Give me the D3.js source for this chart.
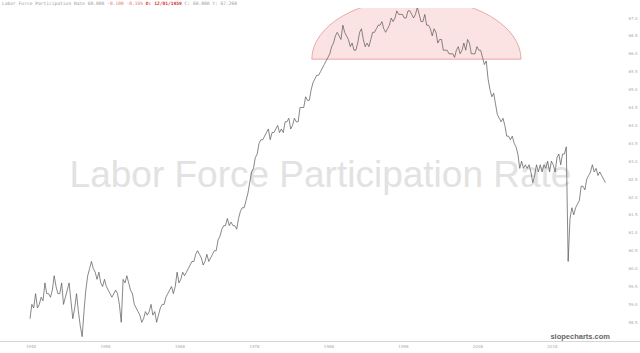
<!DOCTYPE html>
<html>
<head>
<meta charset="utf-8">
<script src="https://cdn.jsdelivr.net/npm/d3@7"></script>
<style>
  body { margin: 0; background: #fff; }
  svg { display: block; }
</style>
</head>
<body>
<script>
// Labor force participation rate, quarterly, one row per year (Q1..Q4).
const lfpr1940s = [
  58.6, 59.0, 58.9, 59.3,
  58.9, 59.0, 59.2, 59.1
];
const lfpr1950s = [
  59.6, 59.3, 59.3, 59.2,
  59.4, 59.8, 59.5, 59.3,
  59.3, 59.6, 59.0, 59.2,
  59.4, 59.6, 59.1, 58.6,
  58.9, 59.3, 58.8, 58.4,
  58.1, 58.8, 59.4, 59.8,
  60.0, 60.2, 60.0, 59.9,
  59.7, 59.9, 59.6, 59.5,
  59.7, 59.5, 59.4, 59.3,
  59.2, 59.3, 59.4, 59.3
];
const lfpr1960s = [
  59.0, 58.5, 59.7, 59.6,
  59.8, 59.6, 59.4, 59.3,
  59.0, 58.9, 58.8, 58.7,
  58.5, 58.6, 58.8, 58.7,
  58.8, 59.0, 58.7, 58.8,
  58.5, 58.7, 58.9, 59.0,
  59.0, 59.2, 59.3, 59.4,
  59.5, 59.3, 59.5, 59.9,
  59.6, 59.7, 59.9, 59.8,
  59.9, 60.0, 60.1, 60.2
];
const lfpr1970s = [
  60.2, 60.4, 60.5, 60.4,
  60.3, 60.1, 60.2, 60.4,
  60.2, 60.3, 60.4, 60.5,
  60.5, 60.8, 60.9, 61.1,
  61.2, 61.2, 61.4, 61.2,
  61.3, 61.2, 61.2, 61.1,
  61.4, 61.6, 61.7, 61.7,
  61.9, 62.1, 62.4, 62.7,
  62.8, 63.1, 63.2, 63.5,
  63.6, 63.6, 63.7, 63.8
];
const lfpr1980s = [
  63.9, 63.6, 63.8, 63.8,
  63.9, 64.0, 63.8, 63.9,
  63.8, 64.1, 64.1, 64.2,
  63.9, 64.0, 64.2, 64.1,
  64.1, 64.5, 64.5, 64.5,
  64.8, 64.7, 64.7, 65.0,
  65.2, 65.3, 65.4, 65.4,
  65.5, 65.6, 65.7, 65.8,
  65.9, 66.0, 66.2, 66.3,
  66.5, 66.6, 66.5, 66.4
];
const lfpr1990s = [
  66.8, 66.6, 66.5, 66.4,
  66.2, 66.3, 66.1, 66.1,
  66.3, 66.6, 66.7, 66.4,
  66.2, 66.3, 66.2, 66.4,
  66.6, 66.6, 66.7, 66.8,
  66.8, 66.9, 66.7, 66.6,
  66.7, 66.8, 67.0, 66.9,
  67.0, 67.2, 67.1, 67.1,
  67.1, 67.0, 67.0, 67.2,
  67.2, 67.1, 67.0, 67.1
];
const lfpr2000s = [
  67.3, 67.1, 66.9, 66.9,
  67.1, 66.8, 66.8, 66.7,
  66.5, 66.7, 66.6, 66.3,
  66.4, 66.4, 66.1, 66.1,
  66.1, 66.0, 66.0, 66.0,
  65.9, 66.1, 66.2, 66.0,
  66.1, 66.3, 66.1, 66.4,
  66.3, 66.0, 66.0, 66.0,
  66.2, 66.1, 66.1, 65.9,
  65.7, 65.8, 65.3, 65.0
];
const lfpr2010s = [
  64.8, 64.9, 64.6, 64.3,
  64.2, 64.1, 64.2, 64.0,
  63.7, 63.7, 63.6, 63.7,
  63.5, 63.4, 63.2, 62.8,
  63.0, 62.8, 62.9, 62.8,
  62.9, 62.7, 62.4, 62.6,
  62.9, 62.7, 62.9, 62.7,
  62.9, 62.8, 63.0, 62.7,
  63.0, 62.9, 62.7, 63.1,
  63.2, 62.9, 63.2, 63.2
];
const lfpr2020s = [
  63.4, 60.2, 61.4, 61.7,
  61.5, 61.7, 61.8, 61.9,
  62.3, 62.3, 62.2, 62.5,
  62.6, 62.7, 62.9, 62.7,
  62.8, 62.6, 62.7, 62.6,
  62.5, 62.4
];

const firstYear = 1948;
const xTickYears = [1948, 1958, 1968, 1978, 1988, 1998, 2008, 2018];
const yTicks = [58.5, 59.0, 59.5, 60.0, 60.5, 61.0, 61.5, 62.0, 62.5,
                63.0, 63.5, 64.0, 64.5, 65.0, 65.5, 66.0, 66.5, 67.0];

// Highlighted dome annotation: start/end month and base/top value.
const domeDates = ["1985-11-01", "2013-12-01"];
const domeValues = [65.85, 67.55];

const title = "Labor Force Participation Rate";
const headerParts = [
  "Labor Force Participation Rate 60.000 ",
  "-0.100 -0.16% ",
  "D: 12/01/1959 ",
  "C: 60.000 Y: 67.260"
];
const brand = "slopecharts.com";

// Build quarterly series.
const values = [].concat(lfpr1940s, lfpr1950s, lfpr1960s, lfpr1970s,
                         lfpr1980s, lfpr1990s, lfpr2000s, lfpr2010s, lfpr2020s);
const series = values.map((v, i) => ({
  date: d3.timeMonth.offset(new Date(firstYear, 0, 1), i * 3),
  value: v
}));

const W = 640, H = 353;
const svg = d3.select("body").append("svg")
  .attr("width", W)
  .attr("height", H);

const x = d3.scaleTime()
  .domain([new Date(1948, 0, 1), new Date(2026, 0, 1)])
  .range([30, 611]);

const y = d3.scaleLinear()
  .domain([58.5, 67])
  .range([322.3, 18]);

// Clip for the plot area.
svg.append("clipPath").attr("id", "plot")
  .append("rect")
  .attr("x", 0).attr("y", 8)
  .attr("width", 616).attr("height", 333);

// Watermark.
svg.append("text")
  .attr("x", 320.5)
  .attr("y", 187)
  .attr("text-anchor", "middle")
  .attr("font-family", "Liberation Sans, Arial, sans-serif")
  .attr("font-size", 37)
  .attr("fill", "#e2e2e2")
  .text(title);

// Dome annotation.
const dx0 = x(new Date(domeDates[0])), dx1 = x(new Date(domeDates[1]));
const dBase = y(domeValues[0]), dTop = y(domeValues[1]);
const rx = (dx1 - dx0) / 2, ry = dBase - dTop;
svg.append("path")
  .attr("clip-path", "url(#plot)")
  .attr("d", `M ${dx0} ${dBase} A ${rx} ${ry} 0 0 1 ${dx1} ${dBase} Z`)
  .attr("fill", "#fcdede")
  .attr("fill-opacity", 0.85)
  .attr("stroke", "#e59595")
  .attr("stroke-width", 0.8);

// Price line.
const line = d3.line()
  .x(d => x(d.date))
  .y(d => y(d.value));

svg.append("path")
  .datum(series)
  .attr("clip-path", "url(#plot)")
  .attr("fill", "none")
  .attr("stroke", "#555")
  .attr("stroke-width", 0.7)
  .attr("stroke-linejoin", "round")
  .attr("d", line);

// Bottom axis line.
svg.append("line")
  .attr("x1", 0).attr("x2", W)
  .attr("y1", 341.5).attr("y2", 341.5)
  .attr("stroke", "#d6d6d6")
  .attr("stroke-width", 1);

// X tick labels.
svg.append("g")
  .selectAll("text")
  .data(xTickYears)
  .join("text")
  .attr("x", d => x(new Date(d, 0, 1)) + 1)
  .attr("y", 348)
  .attr("text-anchor", "middle")
  .attr("font-family", "DejaVu Sans, sans-serif")
  .attr("font-size", 4)
  .attr("fill", "#aaa")
  .text(d => d);

// Y tick labels on the right.
svg.append("g")
  .selectAll("text")
  .data(yTicks)
  .join("text")
  .attr("x", 633)
  .attr("y", d => y(d) + 1.5)
  .attr("text-anchor", "middle")
  .attr("font-family", "DejaVu Sans, sans-serif")
  .attr("font-size", 4)
  .attr("fill", "#aaa")
  .text(d => d.toFixed(1));

// Header line.
const headerColors = ["#999", "#e57373", "#d32f2f", "#999"];
const header = svg.append("text")
  .attr("x", 2)
  .attr("y", 5)
  .attr("font-family", "DejaVu Sans Mono, monospace")
  .attr("font-size", 4.6)
  .attr("xml:space", "preserve");
header.selectAll("tspan")
  .data(headerParts)
  .join("tspan")
  .attr("fill", (d, i) => headerColors[i])
  .attr("font-weight", (d, i) => i === 2 ? "bold" : "normal")
  .text(d => d);

// Brand.
svg.append("text")
  .attr("x", 610)
  .attr("y", 339)
  .attr("text-anchor", "end")
  .attr("font-family", "Liberation Sans, Arial, sans-serif")
  .attr("font-size", 7.5)
  .attr("font-weight", "bold")
  .attr("fill", "#666")
  .text(brand);
</script>
</body>
</html>
